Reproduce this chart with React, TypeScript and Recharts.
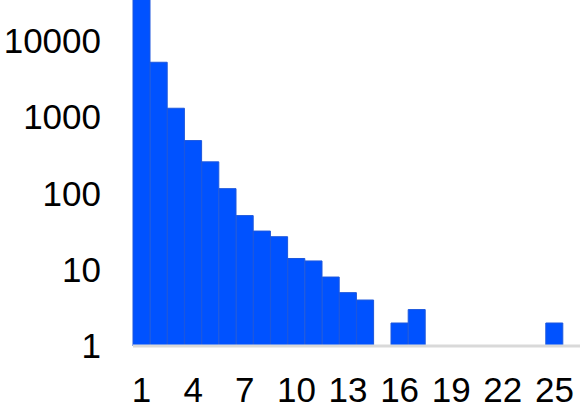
import { Bar, BarChart, XAxis, YAxis } from 'recharts'

// run lengths 1..25, counts (0 = no bar)
const categories = [
  '1', '2', '3', '4', '5', '6', '7', '8', '9', '10', '11', '12', '13',
  '14', '15', '16', '17', '18', '19', '20', '21', '22', '23', '24', '25',
]
const counts: (number | null)[] = [
  40000, 5200, 1300, 490, 258, 115, 51, 32, 27, 14, 13, 8, 5,
  4, null, 2, 3, null, null, null, null, null, null, null, 2,
]
const yTicks = [1, 10, 100, 1000, 10000]
const xTicks = ['1', '4', '7', '10', '13', '16', '19', '22', '25']

const data = categories.map((c, i) => ({ label: c, count: counts[i] }))

const font = { fontSize: 35, fill: '#000', fontFamily: '"Liberation Sans", Arial, sans-serif' }

export default function App() {
  return (
    <div style={{ position: 'absolute', left: 0, top: 0, background: '#fff' }}>
      <BarChart
        width={581}
        height={408}
        data={data}
        margin={{ top: 0, right: 1, left: 0, bottom: 0 }}
        barCategoryGap={0}
      >
        <XAxis
          dataKey="label"
          ticks={xTicks}
          interval={0}
          tick={font}
          tickLine={false}
          tickSize={0}
          tickMargin={31}
          height={62}
          padding={{ left: 0, right: 17 }}
          axisLine={{ stroke: '#d9d9d9', strokeWidth: 3 }}
        />
        <YAxis
          scale="log"
          domain={[1, 34000]}
          allowDataOverflow
          ticks={yTicks}
          tick={font}
          tickLine={false}
          axisLine={false}
          tickSize={0}
          tickMargin={32}
          width={133}
        />
        <Bar dataKey="count" fill="#0052ff" stroke="#1c57dd" strokeWidth={1} isAnimationActive={false} />
      </BarChart>
    </div>
  )
}
